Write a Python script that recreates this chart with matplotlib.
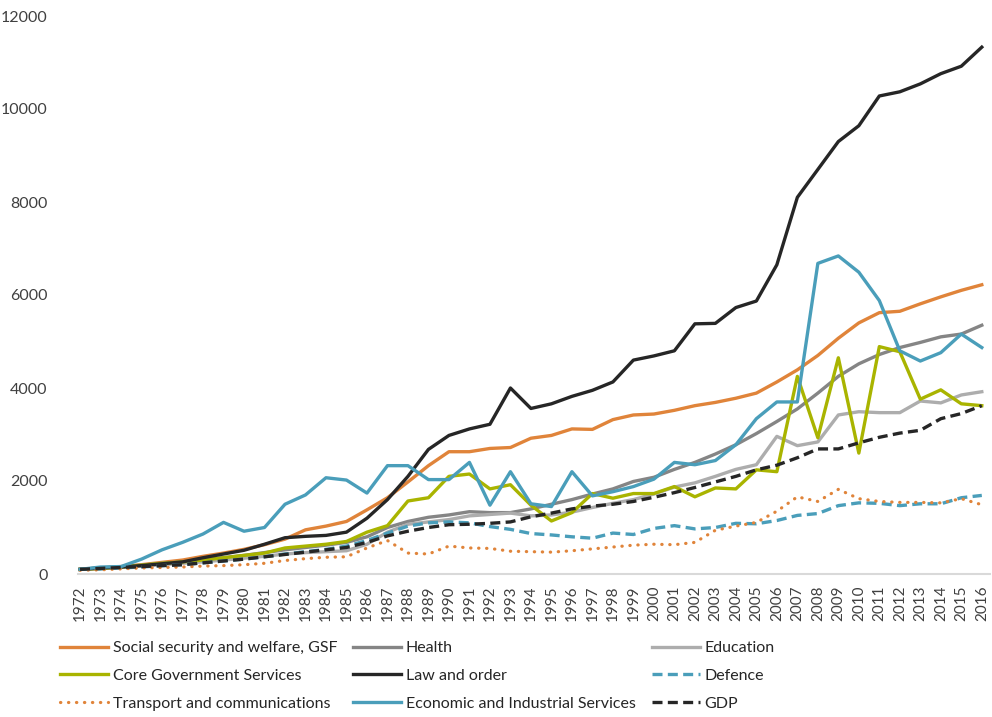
import matplotlib
matplotlib.use("Agg")
import matplotlib.pyplot as plt

plt.rcParams['font.family'] = ['Lato', 'DejaVu Sans']

years = list(range(1972, 2017))

social = [100, 130, 160, 200, 250, 300, 380, 450, 530, 630, 750, 950, 1030, 1130, 1380,
          1640, 1980, 2330, 2630, 2630, 2700, 2720, 2920, 2980, 3120, 3110, 3320, 3420, 3440,
          3520, 3620, 3690, 3780, 3890, 4130, 4390, 4700, 5070, 5400, 5620, 5650, 5810, 5960,
          6100, 6220]
health = [100, 120, 150, 190, 230, 260, 300, 350, 400, 460, 520, 570, 620, 680, 800,
          1000, 1130, 1220, 1270, 1340, 1320, 1320, 1400, 1500, 1600, 1720, 1830, 1990, 2080,
          2250, 2400, 2580, 2780, 3020, 3280, 3550, 3890, 4250, 4520, 4720, 4870, 4980, 5100,
          5160, 5350]
education = [100, 115, 140, 170, 200, 230, 260, 300, 340, 380, 430, 460, 480, 500, 640,
             900, 1070, 1120, 1170, 1250, 1280, 1310, 1250, 1270, 1330, 1430, 1520, 1600, 1720,
             1870, 1960, 2100, 2250, 2350, 2960, 2760, 2840, 3420, 3490, 3470, 3470, 3720, 3680,
             3850, 3920]
core = [100, 120, 150, 190, 230, 260, 300, 350, 400, 450, 560, 600, 640, 700, 900,
        1040, 1570, 1640, 2100, 2150, 1830, 1920, 1480, 1140, 1320, 1730, 1630, 1730, 1730,
        1880, 1660, 1850, 1830, 2240, 2200, 4250, 2930, 4650, 2600, 4890, 4780, 3760, 3960,
        3660, 3620]
law = [100, 130, 150, 180, 220, 260, 350, 430, 510, 640, 780, 810, 830, 900, 1200,
       1600, 2100, 2680, 2980, 3120, 3220, 4000, 3560, 3660, 3820, 3950, 4130, 4600, 4690,
       4800, 5380, 5390, 5730, 5870, 6650, 8100, 8700, 9300, 9640, 10280, 10370, 10540, 10760,
       10920, 11330]
defence = [100, 110, 130, 150, 180, 200, 240, 280, 320, 370, 430, 480, 530, 600, 720,
           880, 1030, 1100, 1120, 1100, 1020, 960, 870, 840, 800, 770, 880, 850, 980,
           1040, 970, 1000, 1090, 1080, 1150, 1260, 1300, 1470, 1530, 1520, 1470, 1510, 1510,
           1640, 1690]
transport = [80, 90, 110, 130, 140, 150, 170, 180, 200, 230, 290, 330, 360, 370, 560,
             720, 450, 430, 600, 560, 550, 490, 480, 470, 500, 540, 580, 620, 640,
             630, 680, 940, 1030, 1110, 1350, 1660, 1560, 1820, 1620, 1560, 1540, 1540, 1530,
             1620, 1490]
economic = [100, 150, 160, 320, 520, 680, 860, 1110, 920, 1000, 1500, 1700, 2070, 2020, 1740,
            2330, 2330, 2030, 2030, 2400, 1480, 2200, 1510, 1450, 2200, 1680, 1770, 1880, 2040,
            2400, 2350, 2440, 2780, 3340, 3700, 3700, 6680, 6840, 6490, 5880, 4800, 4580, 4760,
            5160, 4870]
gdp = [100, 120, 140, 160, 180, 200, 240, 280, 320, 370, 420, 470, 520, 570, 680,
       820, 920, 1000, 1060, 1070, 1090, 1120, 1230, 1310, 1400, 1460, 1500, 1560, 1650,
       1750, 1860, 1980, 2100, 2240, 2340, 2500, 2690, 2690, 2820, 2940, 3030, 3090, 3340,
       3450, 3620]

yticks = [0, 2000, 4000, 6000, 8000, 10000, 12000]

W, H = 992, 717
fig = plt.figure(figsize=(W / 100, H / 100), dpi=100)
ax = fig.add_axes([78 / W, (H - 574) / H, (990 - 78) / W, (574 - 16) / H])

lw = 2.4
ax.plot(years, social, color='#E0843A', lw=lw, label='Social security and welfare, GSF')
ax.plot(years, health, color='#858585', lw=lw, label='Health')
ax.plot(years, education, color='#ADADAD', lw=lw, label='Education')
ax.plot(years, core, color='#A9B400', lw=lw, label='Core Government Services')
ax.plot(years, law, color='#262626', lw=lw, label='Law and order')
ax.plot(years, defence, color='#4A9EBA', lw=lw, ls=(0, (3, 1.6)), label='Defence')
ax.plot(years, transport, color='#E0843A', lw=2.3, ls=(0, (0.1, 2.4)),
        dash_capstyle='round', solid_capstyle='round', label='Transport and communications')
ax.plot(years, economic, color='#4A9EBA', lw=lw, label='Economic and Industrial Services')
ax.plot(years, gdp, color='#262626', lw=lw, ls=(0, (3, 1.6)), label='GDP')

ax.set_xlim(1971.9, 2016.4)
ax.set_ylim(0, 12000)
ax.set_yticks(yticks)
ax.set_yticklabels([str(v) for v in yticks])
ax.set_xticks(years)
ax.set_xticklabels([str(y) for y in years], rotation=90)

for s in ['top', 'right', 'left']:
    ax.spines[s].set_visible(False)
ax.spines['bottom'].set_color('#D9D9D9')
ax.spines['bottom'].set_linewidth(1.5)
ax.tick_params(axis='y', length=0, pad=22, labelsize=11.5, labelcolor='#404040')
ax.tick_params(axis='x', length=0, pad=8, labelsize=11, labelcolor='#404040')

handles, labels = ax.get_legend_handles_labels()
order = [0, 3, 6, 1, 4, 7, 2, 5, 8]
leg = fig.legend([handles[i] for i in order], [labels[i] for i in order],
                 loc='upper left', bbox_to_anchor=(60 / W, 1 - 641 / H), ncol=3,
                 frameon=False, fontsize=11.5, handlelength=3.0, handletextpad=0.3,
                 columnspacing=1.0, labelspacing=0.85, borderpad=0, borderaxespad=0)
for t in leg.get_texts():
    t.set_color('#262626')

fig.savefig('out.png', dpi=100)
